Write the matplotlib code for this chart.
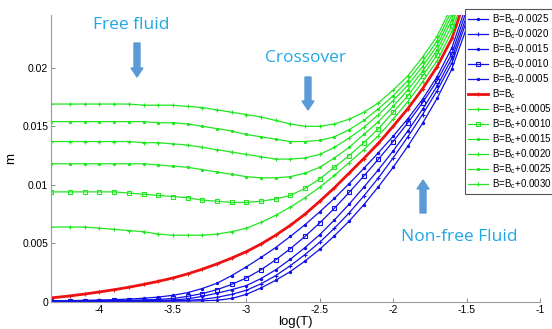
"""
Magnetisation m vs log(T) near the critical field B_c.
Blue: below B_c, red: at B_c, green: above B_c.
"""

import matplotlib

matplotlib.use("Agg")
import matplotlib.pyplot as plt
from matplotlib.patches import FancyArrow
from matplotlib.transforms import Affine2D

W, H = 552, 329

LOG_T = [-4.33, -4.2, -4.1, -4.0, -3.9, -3.8, -3.7, -3.6, -3.5, -3.4,
         -3.3, -3.2, -3.1, -3.0, -2.9, -2.8, -2.7, -2.6, -2.5, -2.4,
         -2.3, -2.2, -2.1, -2.0, -1.9, -1.8, -1.7, -1.6, -1.5, -1.4]

# below B_c
M_B_0025 = [0.00004, 0.00004, 0.00004, 0.00004, 0.00005, 0.00005, 0.00005, 0.00006, 0.00007, 0.00008,
            0.00010, 0.00015, 0.00030, 0.00065, 0.00120, 0.00185, 0.00260, 0.00350, 0.00450, 0.00565,
            0.00690, 0.00830, 0.00985, 0.01150, 0.01330, 0.01525, 0.01740, 0.01990, 0.02340, 0.02830]
M_B_0020 = [0.00005, 0.00005, 0.00006, 0.00006, 0.00006, 0.00007, 0.00007, 0.00008, 0.00010, 0.00014,
            0.00022, 0.00040, 0.00065, 0.00100, 0.00155, 0.00225, 0.00310, 0.00405, 0.00510, 0.00630,
            0.00760, 0.00905, 0.01060, 0.01230, 0.01410, 0.01600, 0.01805, 0.02040, 0.02400, 0.02880]
M_B_0015 = [0.00007, 0.00008, 0.00008, 0.00009, 0.00009, 0.00010, 0.00011, 0.00013, 0.00017, 0.00027,
            0.00048, 0.00075, 0.00105, 0.00140, 0.00200, 0.00275, 0.00365, 0.00465, 0.00575, 0.00700,
            0.00835, 0.00980, 0.01130, 0.01290, 0.01460, 0.01645, 0.01845, 0.02080, 0.02440, 0.02920]
M_B_0010 = [0.00009, 0.00010, 0.00011, 0.00012, 0.00013, 0.00015, 0.00018, 0.00022, 0.00030, 0.00048,
            0.00072, 0.00105, 0.00150, 0.00205, 0.00275, 0.00360, 0.00455, 0.00560, 0.00675, 0.00800,
            0.00935, 0.01075, 0.01220, 0.01370, 0.01530, 0.01700, 0.01890, 0.02120, 0.02490, 0.02960]
M_B_0005 = [0.00010, 0.00012, 0.00014, 0.00017, 0.00020, 0.00025, 0.00032, 0.00042, 0.00057, 0.00080,
            0.00115, 0.00160, 0.00225, 0.00300, 0.00380, 0.00465, 0.00560, 0.00660, 0.00770, 0.00885,
            0.01010, 0.01140, 0.01275, 0.01415, 0.01565, 0.01730, 0.01925, 0.02170, 0.02540, 0.03000]
# at B_c
M_BC = [0.00035, 0.00052, 0.00068, 0.00086, 0.00105, 0.00126, 0.00150, 0.00176, 0.00205, 0.00240,
        0.00280, 0.00325, 0.00375, 0.00430, 0.00495, 0.00570, 0.00655, 0.00750, 0.00860, 0.00975,
        0.01100, 0.01225, 0.01355, 0.01500, 0.01650, 0.01820, 0.02010, 0.02250, 0.02620, 0.03050]
# above B_c
M_A_0005 = [0.0064, 0.0064, 0.0064, 0.0063, 0.0062, 0.0061, 0.0060, 0.0058, 0.0057, 0.0057,
            0.0057, 0.0058, 0.0060, 0.0063, 0.0068, 0.0074, 0.0081, 0.0089, 0.0098, 0.0108,
            0.0119, 0.0130, 0.0142, 0.0156, 0.0171, 0.0188, 0.0206, 0.0231, 0.0268, 0.0310]
M_A_0010 = [0.0094, 0.0094, 0.0094, 0.0094, 0.0094, 0.0093, 0.0092, 0.0091, 0.0090, 0.0089,
            0.0087, 0.0086, 0.0085, 0.0085, 0.0086, 0.0088, 0.0091, 0.0097, 0.0105, 0.0115,
            0.0125, 0.0136, 0.0148, 0.0162, 0.0176, 0.0193, 0.0211, 0.0236, 0.0273, 0.0315]
M_A_0015 = [0.0118, 0.0118, 0.0118, 0.0118, 0.0118, 0.0118, 0.0118, 0.0117, 0.0116, 0.0115,
            0.0113, 0.0111, 0.0109, 0.0107, 0.0106, 0.0106, 0.0107, 0.0110, 0.0115, 0.0123,
            0.0132, 0.0143, 0.0154, 0.0167, 0.0181, 0.0197, 0.0215, 0.0241, 0.0278, 0.0320]
M_A_0020 = [0.0137, 0.0137, 0.0137, 0.0137, 0.0137, 0.0137, 0.0136, 0.0136, 0.0135, 0.0134,
            0.0132, 0.0130, 0.0128, 0.0126, 0.0124, 0.0122, 0.0122, 0.0123, 0.0126, 0.0132,
            0.0140, 0.0149, 0.0160, 0.0172, 0.0185, 0.0201, 0.0219, 0.0245, 0.0282, 0.0325]
M_A_0025 = [0.0154, 0.0154, 0.0154, 0.0154, 0.0154, 0.0154, 0.0154, 0.0153, 0.0153, 0.0152,
            0.0150, 0.0148, 0.0146, 0.0143, 0.0141, 0.0139, 0.0137, 0.0137, 0.0138, 0.0141,
            0.0147, 0.0155, 0.0165, 0.0176, 0.0189, 0.0205, 0.0223, 0.0249, 0.0286, 0.0330]
M_A_0030 = [0.0169, 0.0169, 0.0169, 0.0169, 0.0169, 0.0169, 0.0168, 0.0168, 0.0168, 0.0167,
            0.0166, 0.0164, 0.0162, 0.0160, 0.0158, 0.0155, 0.0152, 0.0150, 0.0150, 0.0152,
            0.0156, 0.0162, 0.0170, 0.0181, 0.0193, 0.0209, 0.0227, 0.0253, 0.0290, 0.0335]

LABELS = ["-0.0025", "-0.0020", "-0.0015", "-0.0010", "-0.0005", "",
          "+0.0005", "+0.0010", "+0.0015", "+0.0020", "+0.0025", "+0.0030"]
SERIES = [M_B_0025, M_B_0020, M_B_0015, M_B_0010, M_B_0005, M_BC,
          M_A_0005, M_A_0010, M_A_0015, M_A_0020, M_A_0025, M_A_0030]
MARKERS = [".", "+", ".", "s", ".", "+", "+", "s", ".", "+", ".", "+"]

BLUE = "#1010e8"
RED = "#ee1111"
GREEN = "#22e622"
NOTE = "#1fa8e6"
ARROW = "#5b9bd5"

fig = plt.figure(figsize=(W / 100, H / 100), dpi=100)
ax = fig.add_axes([51 / W, 1 - 302 / H, (540 - 51) / W, (302 - 15) / H])

for i, (ys, lab, mk) in enumerate(zip(SERIES, LABELS, MARKERS)):
    if i < 5:
        color, lw = BLUE, 0.9
    elif i == 5:
        color, lw = RED, 2.0
    else:
        color, lw = GREEN, 0.9
    ms = 2.6 if mk == "s" else 3.2
    ax.plot(LOG_T, ys, color=color, lw=lw, marker=mk, ms=ms, mew=0.8,
            mfc=color if mk != "s" else "none",
            label=r"B=B$_\mathregular{c}$" + lab)

ax.set_xlim(-4.33, -1)
ax.set_ylim(0, 0.0245)
ax.set_xticks([-4, -3.5, -3, -2.5, -2, -1.5, -1])
ax.set_xticklabels(["-4", "-3.5", "-3", "-2.5", "-2", "-1.5", "-1"])
ax.set_yticks([0, 0.005, 0.01, 0.015, 0.02])
ax.set_yticklabels(["0", "0.005", "0.01", "0.015", "0.02"])
for s in ("top", "right"):
    ax.spines[s].set_visible(False)
for s in ("left", "bottom"):
    ax.spines[s].set_color("#9a9a9a")
    ax.spines[s].set_linewidth(0.8)
ax.tick_params(direction="in", length=3, width=0.6, color="#777777",
               labelsize=7.5, labelfontfamily="Liberation Sans", pad=2)
ax.set_xlabel("log(T)", family="Liberation Sans", fontsize=9.5, labelpad=1)
ax.set_ylabel("m", family="Liberation Sans", fontsize=9.5, labelpad=4)

leg = ax.legend(loc="upper left", bbox_to_anchor=(465 / W, 1 - 9 / H),
                bbox_transform=fig.transFigure, borderaxespad=0,
                prop={"family": "Liberation Sans", "size": 7},
                fancybox=False, edgecolor="#555555", framealpha=1,
                handlelength=2.0, handletextpad=0.4, labelspacing=0.12,
                borderpad=0.35)
leg.get_frame().set_linewidth(0.8)

# annotations placed in image pixel coordinates (origin top-left)
px = Affine2D().scale(1, -1).translate(0, H)
for txt, x, y in [("Free fluid", 131, 25), ("Crossover", 306, 58),
                  ("Non-free Fluid", 459, 237)]:
    fig.text(x, y, txt, transform=px, ha="center", va="center",
             family="Open Sans", fontsize=12.5, color=NOTE)

# (x, y of tail, dy) in pixels; dy > 0 points downward
for x, y0, dy in [(137, 43, 34), (308, 77, 33), (423, 213, -33)]:
    fig.add_artist(FancyArrow(x, y0, 0, dy, width=6, head_width=12,
                              head_length=9, length_includes_head=True,
                              color=ARROW, transform=px))

fig.savefig("out.png", dpi=100)
